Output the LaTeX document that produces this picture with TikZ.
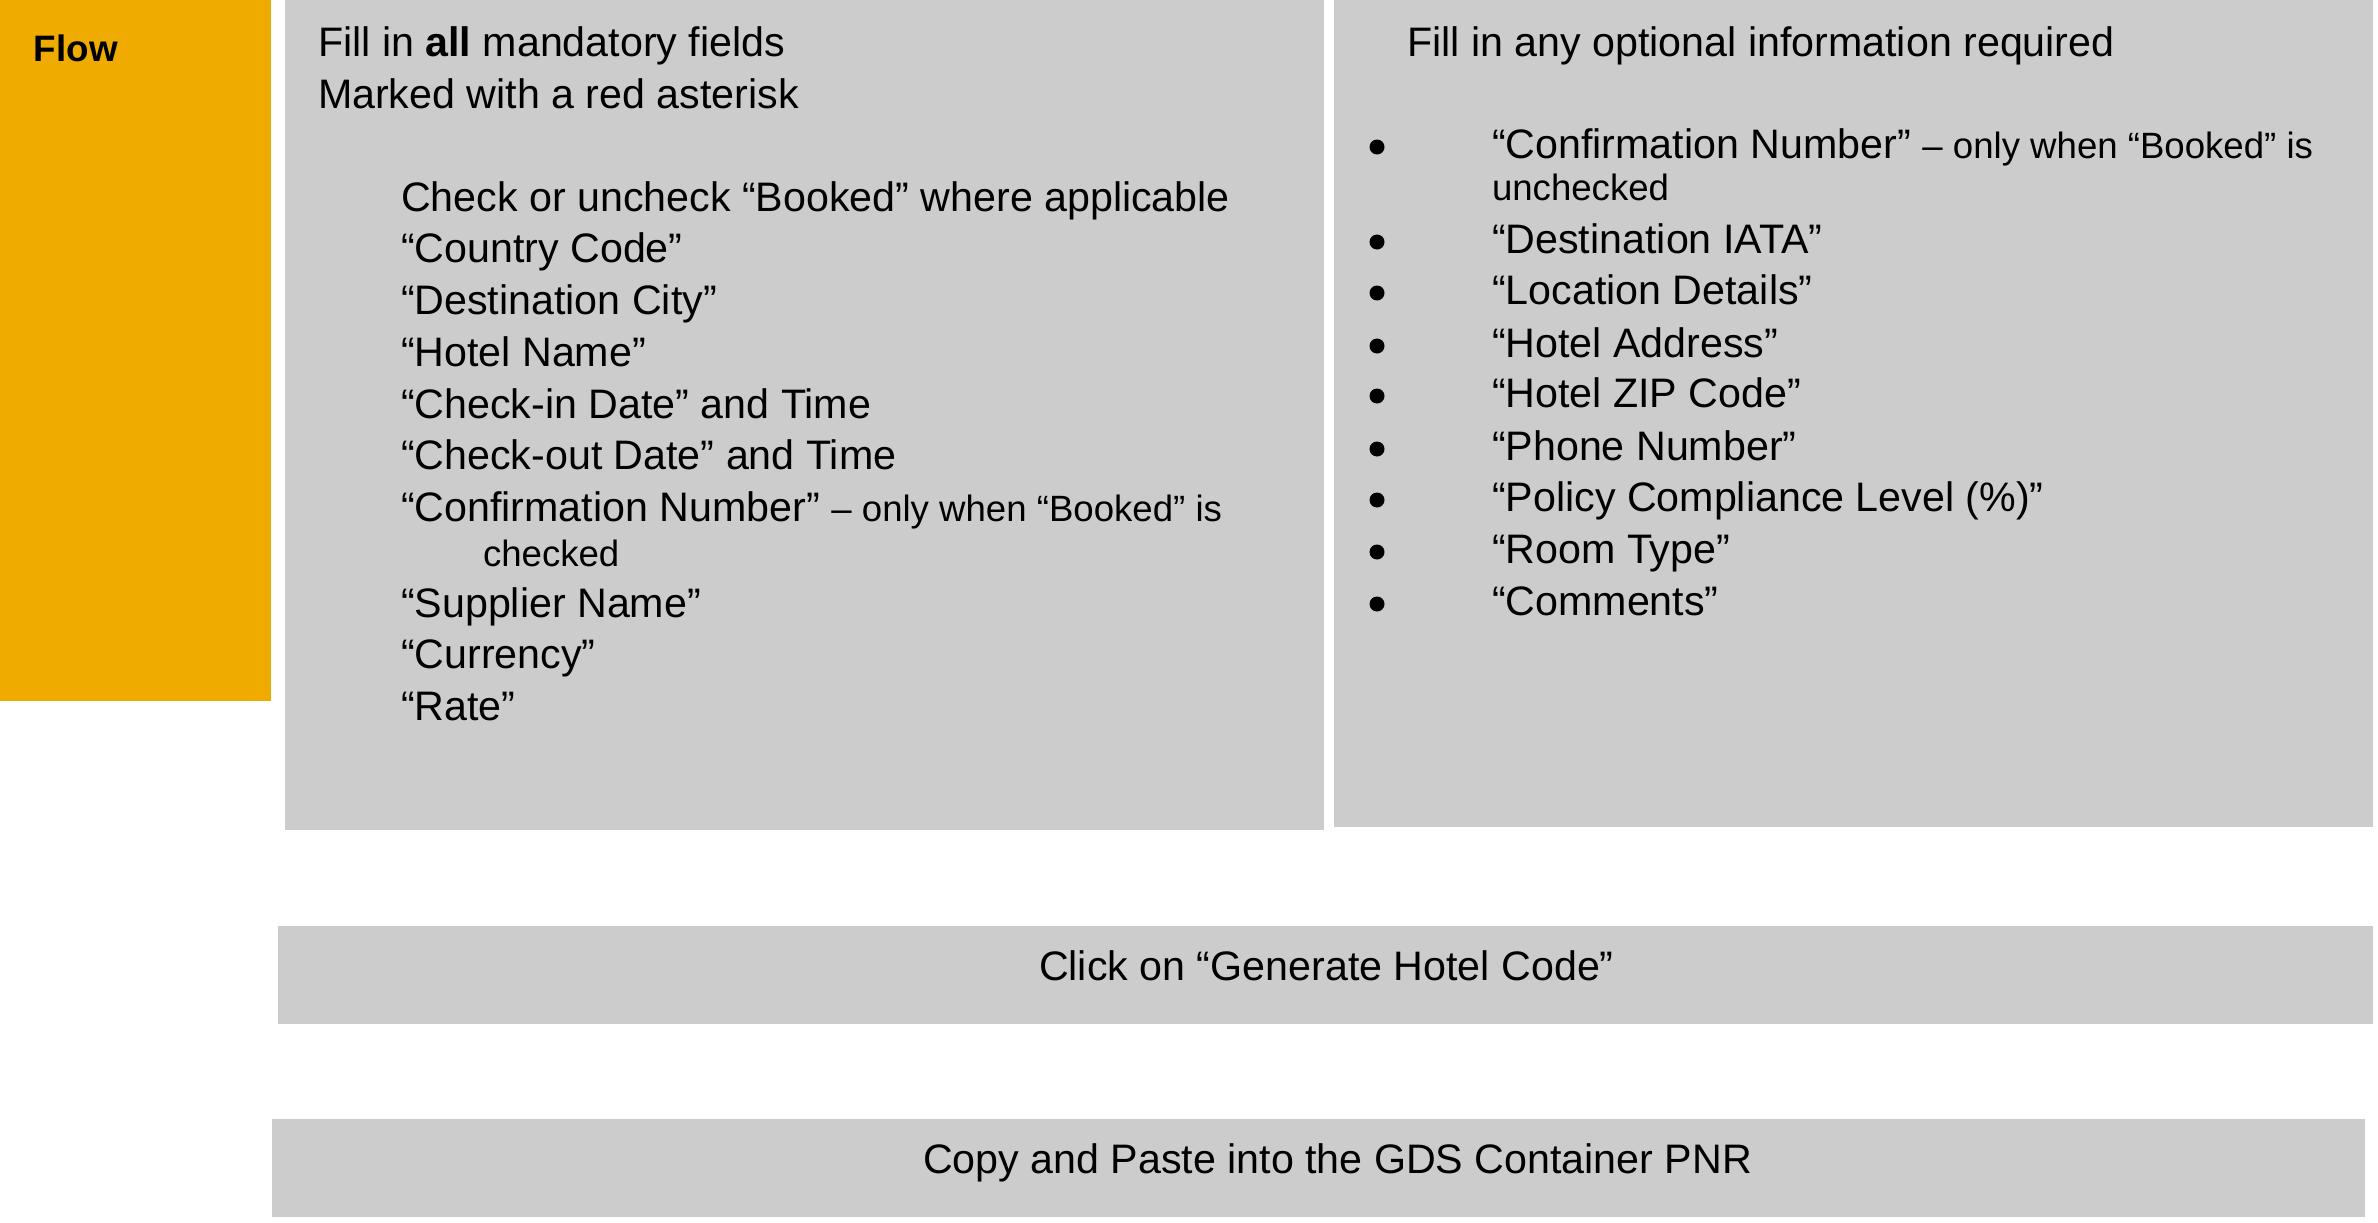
\documentclass[tikz,border=0pt]{standalone}
\usepackage{fontspec}
\setmainfont{Liberation Sans}
\definecolor{flowgold}{HTML}{F0AB00}
\definecolor{boxgray}{HTML}{CCCCCC}
\newcommand{\smallfnt}{\fontsize{36.6}{44}\selectfont}
\tikzset{
  panel/.style={rectangle, fill=boxgray, draw=none, inner sep=0pt, outer sep=0pt, anchor=north west},
  goldpanel/.style={panel, fill=flowgold},
  big/.style={anchor=base west, inner sep=0pt, outer sep=0pt, font=\fontsize{41.2}{49}\selectfont},
  small/.style={anchor=base west, inner sep=0pt, outer sep=0pt, font=\smallfnt},
  flowlabel/.style={anchor=base west, inner sep=0pt, outer sep=0pt, font=\fontsize{36.8}{44}\selectfont\bfseries},
  bulletdot/.style={circle, fill=black, draw=none, inner sep=0pt, minimum size=15pt},
}
\begin{document}
\begin{tikzpicture}[x=1pt,y=-1pt]
\useasboundingbox (0,0) rectangle (2378,1223);
% panels
\node[goldpanel, minimum width=271pt, minimum height=701pt] (flowbox) at (0,0) {};
\node[panel, minimum width=1039pt, minimum height=830pt] (mandbox) at (285,0) {};
\node[panel, minimum width=1039pt, minimum height=827pt] (optbox) at (1334,0) {};
\node[panel, minimum width=2095pt, minimum height=98pt] (genbox) at (278,926) {};
\node[panel, minimum width=2093pt, minimum height=98pt] (copybox) at (272,1119) {};
% flow label
\node[flowlabel] (flow) at (34,62) {Flow};
% mandatory fields
\node[big] (m1) at (318,57) {Fill in \textbf{all} mandatory fields};
\node[big] (m2) at (318,108) {Marked with a red asterisk};
\node[big] (m3) at (401,211) {Check or uncheck “Booked” where applicable};
\node[big] (m4) at (401,262.5) {“Country Code”};
\node[big] (m5) at (401,314) {“Destination City”};
\node[big] (m6) at (401,366) {“Hotel Name”};
\node[big] (m7) at (401,418) {“Check-in Date” and Time};
\node[big] (m8) at (401,469) {“Check-out Date” and Time};
\node[big] (m9) at (401,521) {“Confirmation Number” {\smallfnt – only when “Booked” is}};
\node[small] (m9b) at (483,566) {checked};
\node[big] (m10) at (401,617) {“Supplier Name”};
\node[big] (m11) at (401,668) {“Currency”};
\node[big] (m12) at (401,720) {“Rate”};
% optional fields
\node[big] (o0) at (1407,57) {Fill in any optional information required};
\foreach \nm/\yy/\txt in {o1/158/{“Confirmation Number” {\smallfnt – only when “Booked” is}},
                          o2/253/{“Destination IATA”},
                          o3/304/{“Location Details”},
                          o4/357/{“Hotel Address”},
                          o5/407/{“Hotel ZIP Code”},
                          o6/460/{“Phone Number”},
                          o7/511/{“Policy Compliance Level (\%)”},
                          o8/563/{“Room Type”},
                          o9/615/{“Comments”}}{
  \node[big] (\nm) at (1492,\yy) {\txt};
  \node[bulletdot] (\nm dot) at (1377,\yy-11) {};
}
\node[small] (o1b) at (1492,200) {unchecked};
% bars
\node[big] (gen) at (1039,980) {Click on “Generate Hotel Code”};
\node[big] (copy) at (923,1173) {Copy and Paste into the GDS Container PNR};
\end{tikzpicture}
\end{document}
